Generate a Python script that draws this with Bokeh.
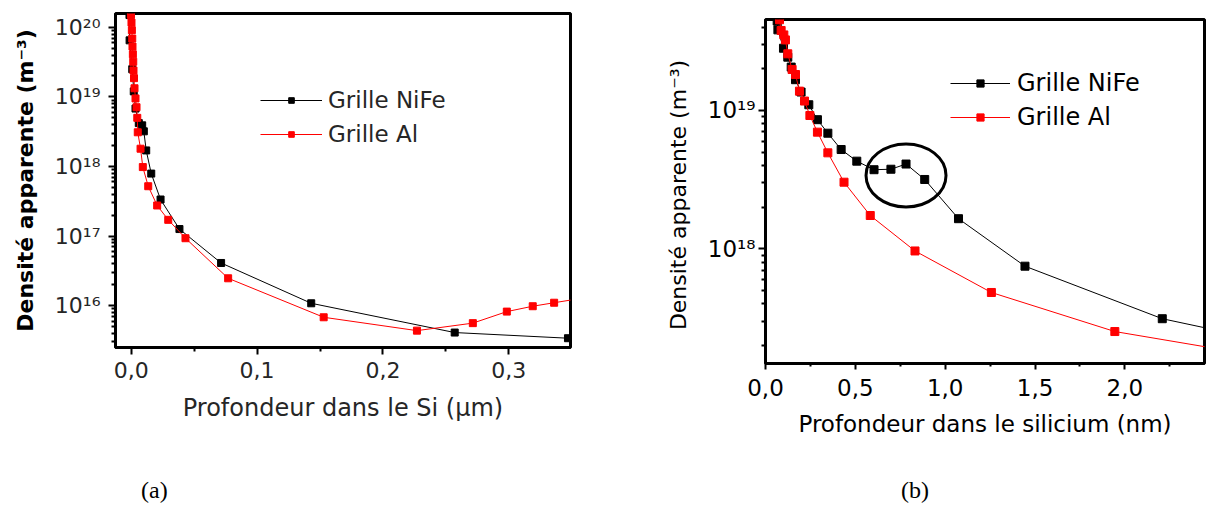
from bokeh.plotting import figure
from bokeh.layouts import row, column
from bokeh.models import FixedTicker, Legend, LegendItem, Range1d, Div
from bokeh.embed import file_html
from bokeh.resources import INLINE

# ---------------- data : panel (a) ----------------
A_NIFE_X = [-0.0014, -0.0013, 0.0008, 0.0020, 0.0034, 0.0060, 0.0087, 0.0100, 0.0119, 0.0159,
            0.0233, 0.0383, 0.0714, 0.143, 0.257, 0.347]
A_NIFE_Y = [1.5e20, 6.5e19, 2.5e19, 1.2e19, 6.8e18, 4.2e18, 3.9e18, 3.2e18, 1.7e18, 7.9e17,
            3.35e17, 1.26e17, 4.1e16, 1.08e16, 4.1e15, 3.4e15]
A_AL_X = [-0.0002, 0.0002, 0.0005, 0.0008, 0.0010, 0.0013, 0.0016, 0.0018, 0.0022, 0.0026,
          0.0034, 0.0042, 0.0048, 0.0052, 0.0074, 0.0092, 0.0135, 0.0206, 0.0294, 0.0431,
          0.077, 0.1529, 0.227, 0.2714, 0.2984, 0.319, 0.336, 0.355]
A_AL_Y = [1.5e20, 1.17e20, 9.1e19, 6.9e19, 5.3e19, 4.1e19, 3.2e19, 2.4e19, 1.86e19, 1.33e19,
          9.5e18, 7.1e18, 5.0e18, 3.1e18, 1.8e18, 9.8e17, 5.2e17, 2.75e17, 1.71e17, 9.3e16,
          2.47e16, 6.8e15, 4.37e15, 5.6e15, 8.2e15, 9.8e15, 1.1e16, 1.25e16]
A_X_TICKS = [0.0, 0.1, 0.2, 0.3]
A_X_LABELS = ["0,0", "0,1", "0,2", "0,3"]
A_X_MINOR = [0.05, 0.15, 0.25, 0.35]
A_Y_TICKS = [1e16, 1e17, 1e18, 1e19, 1e20]
A_Y_LABELS = ["10\u00b9\u2076", "10\u00b9\u2077", "10\u00b9\u2078", "10\u00b9\u2079", "10\u00b2\u2070"]

# ---------------- data : panel (b) ----------------
B_NIFE_X = [0.065, 0.069, 0.100, 0.124, 0.143, 0.167, 0.198, 0.241, 0.289, 0.347, 0.421, 0.508,
            0.604, 0.698, 0.782, 0.886, 1.074, 1.444, 2.208, 2.6]
B_NIFE_Y = [4.43e19, 3.83e19, 2.82e19, 2.43e19, 2.06e19, 1.67e19, 1.36e19, 1.10e19, 8.58e18,
            6.85e18, 5.22e18, 4.30e18, 3.73e18, 3.76e18, 4.10e18, 3.17e18, 1.65e18, 7.48e17,
            3.12e17, 2.43e17]
B_AL_X = [0.078, 0.087, 0.102, 0.111, 0.124, 0.148, 0.167, 0.189, 0.217, 0.247, 0.289, 0.347,
          0.437, 0.583, 0.832, 1.257, 1.944, 2.6]
B_AL_Y = [4.53e19, 3.79e19, 3.52e19, 3.24e19, 2.57e19, 1.98e19, 1.82e19, 1.38e19, 1.17e19,
          9.2e18, 6.97e18, 4.94e18, 3.03e18, 1.74e18, 9.64e17, 4.83e17, 2.52e17, 1.81e17]
B_X_TICKS = [0.0, 0.5, 1.0, 1.5, 2.0]
B_X_LABELS = ["0,0", "0,5", "1,0", "1,5", "2,0"]
B_X_MINOR = [0.25, 0.75, 1.25, 1.75, 2.25]
B_Y_TICKS = [1e17, 1e18, 1e19]
B_Y_LABELS = ["10\u00b9\u2077", "10\u00b9\u2078", "10\u00b9\u2079"]
HIGHLIGHT_X = [0.782]
HIGHLIGHT_Y = [3.39e18]

SERIES_NAMES = ["Grille NiFe", "Grille Al"]
CAPTIONS = ["(a)", "(b)"]

FONT = "DejaVu Sans"


def log_minor(lo, hi):
    return [m * 10.0 ** e for e in range(lo, hi) for m in range(2, 10)]


def style_axes(p, xt, xl, xminor, yt, yl, yminor, tick_font, tcolor,
               xmaj_out, xmin_out, ymaj_out, ymin_out, xstand, ystand):
    p.xaxis.ticker = FixedTicker(ticks=xt, minor_ticks=xminor)
    p.yaxis.ticker = FixedTicker(ticks=yt, minor_ticks=yminor)
    p.xaxis.major_label_overrides = dict(zip(xt, xl))
    p.yaxis.major_label_overrides = dict(zip(yt, yl))
    for ax, mo, mi, st in ((p.xaxis, xmaj_out, xmin_out, xstand), (p.yaxis, ymaj_out, ymin_out, ystand)):
        ax.axis_line_width = 3
        ax.axis_line_color = "black"
        ax.major_tick_in = 0
        ax.major_tick_out = mo
        ax.minor_tick_in = 0
        ax.minor_tick_out = mi
        ax.major_tick_line_width = 2
        ax.minor_tick_line_width = 2
        ax.major_tick_line_color = "black"
        ax.minor_tick_line_color = "black"
        ax.major_label_text_font = FONT
        ax.major_label_text_font_size = tick_font
        ax.major_label_text_color = tcolor
        ax.major_label_standoff = st
        ax.axis_label_text_font = FONT
        ax.axis_label_text_font_style = "normal"
    p.xgrid.visible = False
    p.ygrid.visible = False
    p.outline_line_color = "black"
    p.outline_line_width = 3
    p.outline_line_alpha = 1.0


# ---------------- panel (a) ----------------
pA = figure(width=648, height=476, y_axis_type="log",
            x_range=Range1d(-0.0125, 0.349), y_range=Range1d(2.5e15, 1.58e20),
            output_backend="svg", toolbar_location=None, title=None,
            min_border_left=115, min_border_right=78, min_border_top=13, min_border_bottom=129,
            background_fill_color="white", border_fill_color="white")
style_axes(pA, A_X_TICKS, A_X_LABELS, A_X_MINOR, A_Y_TICKS, A_Y_LABELS, log_minor(15, 21),
           "22px", "#262626", 7, 4, 7, 4, 7, 8)
pA.xaxis.axis_label = "Profondeur dans le Si (\u00b5m)"
pA.xaxis.axis_label_text_font_size = "24px"
pA.xaxis.axis_label_text_color = "#262626"
pA.xaxis.axis_label_standoff = 13
pA.yaxis.axis_label = "Densit\u00e9 apparente (m\u207b\u00b3)"
pA.yaxis.axis_label_text_font_size = "22px"
pA.yaxis.axis_label_text_font_style = "bold"
pA.yaxis.axis_label_text_color = "black"
pA.yaxis.axis_label_standoff = 14

la1 = pA.line(A_NIFE_X, A_NIFE_Y, line_color="black", line_width=1)
sa1 = pA.scatter(A_NIFE_X, A_NIFE_Y, marker="square", size=7, fill_color="black", line_color="black")
la2 = pA.line(A_AL_X, A_AL_Y, line_color="red", line_width=1)
sa2 = pA.scatter(A_AL_X, A_AL_Y, marker="square", size=7, fill_color="red", line_color="red")

legA = Legend(items=[LegendItem(label=SERIES_NAMES[0], renderers=[la1, sa1]),
                     LegendItem(label=SERIES_NAMES[1], renderers=[la2, sa2])],
              location=(145, 196), padding=0, margin=0, spacing=0,
              glyph_width=62, glyph_height=14, label_height=34, label_standoff=6,
              label_text_font=FONT, label_text_font_size="23px", label_text_color="#262626",
              border_line_color=None, background_fill_alpha=0)
pA.add_layout(legA, "center")

# ---------------- panel (b) ----------------
pB = figure(width=558, height=476, y_axis_type="log",
            x_range=Range1d(0.0, 2.443), y_range=Range1d(1.48e17, 4.55e19),
            output_backend="svg", toolbar_location=None, title=None,
            min_border_left=117, min_border_right=2, min_border_top=19, min_border_bottom=113,
            background_fill_color="white", border_fill_color="white")
style_axes(pB, B_X_TICKS, B_X_LABELS, B_X_MINOR, B_Y_TICKS, B_Y_LABELS, log_minor(17, 20),
           "23px", "black", 6, 3, 7, 4, 9, 3)
pB.xaxis.axis_label = "Profondeur dans le silicium (nm)"
pB.xaxis.axis_label_text_font_size = "23px"
pB.xaxis.axis_label_text_color = "black"
pB.xaxis.axis_label_standoff = 12
pB.yaxis.axis_label = "Densit\u00e9 apparente  (m\u207b\u00b3)"
pB.yaxis.axis_label_text_font_size = "22px"
pB.yaxis.axis_label_text_color = "black"
pB.yaxis.axis_label_standoff = 14

lb1 = pB.line(B_NIFE_X, B_NIFE_Y, line_color="black", line_width=1)
sb1 = pB.scatter(B_NIFE_X, B_NIFE_Y, marker="square", size=8, fill_color="black", line_color="black")
lb2 = pB.line(B_AL_X, B_AL_Y, line_color="red", line_width=1)
sb2 = pB.scatter(B_AL_X, B_AL_Y, marker="square", size=8, fill_color="red", line_color="red")
pB.ellipse(x=HIGHLIGHT_X, y=HIGHLIGHT_Y, width=80, height=63,
           width_units="screen", height_units="screen",
           fill_color=None, line_color="black", line_width=3)

legB = Legend(items=[LegendItem(label=SERIES_NAMES[0], renderers=[lb1, sb1]),
                     LegendItem(label=SERIES_NAMES[1], renderers=[lb2, sb2])],
              location=(185, 229), padding=0, margin=0, spacing=0,
              glyph_width=60, glyph_height=18, label_height=34, label_standoff=7,
              label_text_font=FONT, label_text_font_size="24px", label_text_color="black",
              border_line_color=None, background_fill_alpha=0)
pB.add_layout(legB, "center")

# ---------------- captions ----------------
cap_style = {"font-family": "'Liberation Serif', 'Times New Roman', serif", "font-size": "24px",
             "color": "black", "line-height": "28px", "white-space": "nowrap"}
capA = Div(text=CAPTIONS[0], width=648, height=30, margin=0,
           styles=dict(cap_style, **{"padding-left": "141px"}))
capB = Div(text=CAPTIONS[1], width=558, height=30, margin=0,
           styles=dict(cap_style, **{"padding-left": "253px"}))

layout = column(row(column(pA), column(pB)), row(capA, capB))
with open("out.html", "w", encoding="utf-8") as f:
    f.write(file_html(layout, INLINE))
